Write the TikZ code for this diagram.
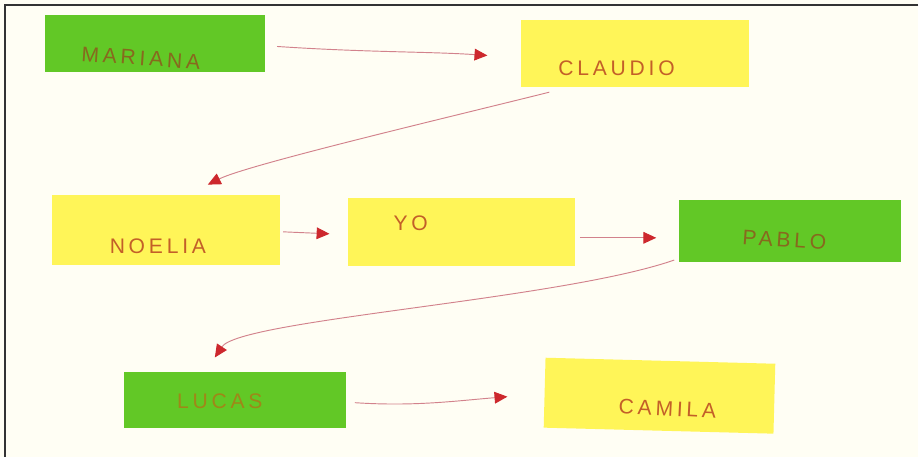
\documentclass[tikz,border=0pt]{standalone}
\usepackage{fontspec}
\setmainfont{Liberation Sans}
\newfontfamily\handfont[LetterSpace=18]{Liberation Sans}
\usetikzlibrary{arrows.meta}

\definecolor{paper}{RGB}{255,254,244}
\definecolor{notegreen}{RGB}{98,200,38}
\definecolor{noteyellow}{RGB}{255,245,88}
\definecolor{pencil}{RGB}{210,130,140}
\definecolor{tipred}{RGB}{205,40,45}
\definecolor{inkbrown}{RGB}{195,95,40}
\definecolor{inkolive}{RGB}{135,105,30}

\tikzset{
	note/.style={inner sep=0pt},
	green note/.style={note, fill=notegreen},
	yellow note/.style={note, fill=noteyellow},
	name text/.style={font=\handfont\fontsize{18}{18}\selectfont, text=inkbrown},
	pencil line/.style={draw=pencil, line width=0.8pt,
		-{Triangle[color=tipred, fill=tipred, length=11pt, width=10pt]}},
}

\begin{document}
\begin{tikzpicture}[x=0.03cm, y=-0.03cm]
	%paper and frame
	\fill[paper] (0,0) rectangle (919,457);
	\draw[line width=1.2pt, black!80] (919,5) -- (5,5) -- (5,457);
	%notes
	\node[green note, minimum width=6.6cm, minimum height=1.71cm] (mariana) at (155,43.5) {};
	\node[yellow note, minimum width=6.87cm, minimum height=2.01cm] (claudio) at (635.5,53.5) {};
	\node[yellow note, minimum width=6.84cm, minimum height=2.1cm] (noelia) at (166,230) {};
	\node[yellow note, minimum width=6.81cm, minimum height=2.04cm] (yo) at (461.5,232) {};
	\node[green note, minimum width=6.66cm, minimum height=1.86cm] (pablo) at (791,231) {};
	\node[green note, minimum width=6.66cm, minimum height=1.68cm] (lucas) at (235,400) {};
	\node[yellow note, minimum width=6.9cm, minimum height=2.1cm, rotate=-1.5] (camila) at (660,396) {};
	%names
	\node[name text, text=inkolive, rotate=-4] (mariana text) at (141,58) {MARIANA};
	\node[name text] (claudio text) at (617,68) {CLAUDIO};
	\node[name text] (noelia text) at (158,246) {NOELIA};
	\node[name text] (yo text) at (411,223) {YO};
	\node[name text, text=inkolive, rotate=-4] (pablo text) at (785,240) {PABLO};
	\node[name text, text=inkolive!80!yellow] (lucas text) at (220,402) {LUCAS};
	\node[name text, rotate=-3] (camila text) at (668,409) {CAMILA};
	%arrows
	\draw[pencil line] ([shift={(12,3)}]mariana.east)
		.. controls +(90,6) and +(-60,-4) .. ([shift={(-33,2)}]claudio.west);
	\draw[pencil line] ([shift={(29,5)}]claudio.south west)
		.. controls +(-100,25) and +(40,-20) .. ([shift={(42,-10)}]noelia.north);
	\draw[pencil line] ([shift={(3,2)}]noelia.east) -- ([shift={(-18,2)}]yo.west);
	\draw[pencil line] ([shift={(5,6)}]yo.east)
		.. controls +(30,0) and +(-30,0) .. ([shift={(-23,7)}]pablo.west);
	\draw[pencil line] ([shift={(-5,-2)}]pablo.south west)
		.. controls +(-115,40) and +(25,-38) .. ([shift={(-20,-14)}]lucas.north);
	\draw[pencil line] ([shift={(9,3)}]lucas.east)
		.. controls +(60,4) and +(-50,4) .. ([shift={(-37,4)}]camila.west);
\end{tikzpicture}
\end{document}
